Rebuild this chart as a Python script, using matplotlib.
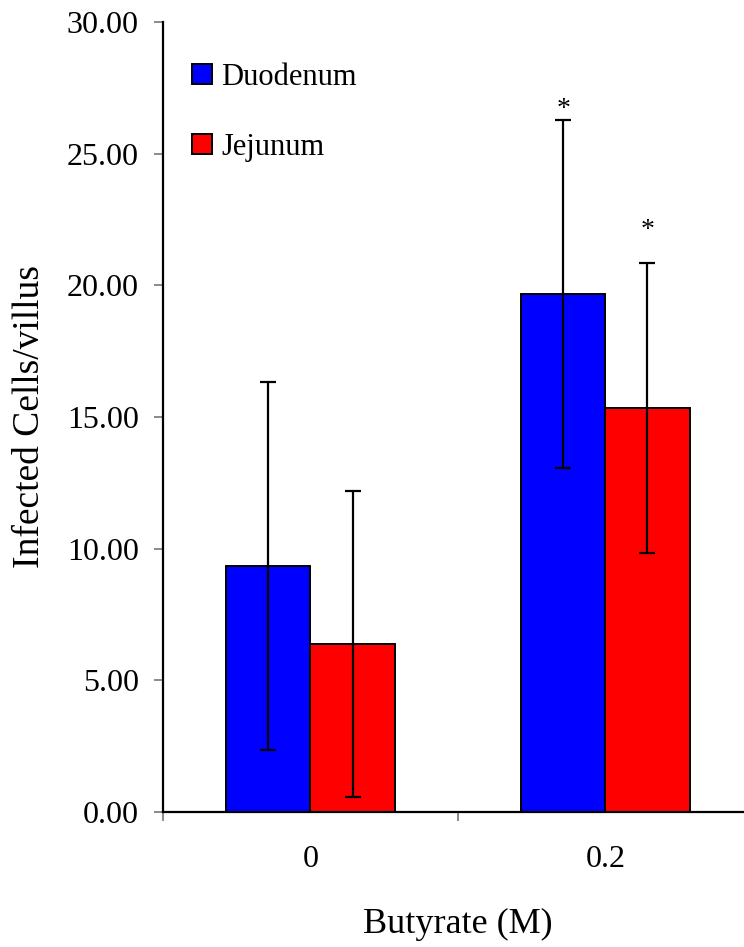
import matplotlib
matplotlib.use("Agg")
import matplotlib.pyplot as plt
import numpy as np

plt.rcParams['font.family'] = ['Liberation Serif', 'DejaVu Serif']

# data
doses = ['0', '0.2']
duodenum = [9.34, 19.67]
duodenum_err = [7.0, 6.62]
jejunum = [6.38, 15.35]
jejunum_err = [5.8, 5.5]
signif = [False, True]

fig = plt.figure(figsize=(7.44, 9.47), dpi=100)
ax = fig.add_axes([0.2191, 0.1426, 0.7929, 0.8342])

x = np.arange(len(doses))
w = 0.285

err_kw = dict(ecolor='black', elinewidth=1.6, capsize=5.5, capthick=1.6)
ax.bar(x - w / 2, duodenum, w, yerr=duodenum_err, color='#0000ff',
       edgecolor='black', linewidth=1.4, label='Duodenum', error_kw=err_kw)
ax.bar(x + w / 2, jejunum, w, yerr=jejunum_err, color='#ff0000',
       edgecolor='black', linewidth=1.4, label='Jejunum', error_kw=err_kw)

# significance stars above the error bars
for i, s in enumerate(signif):
    if s:
        ax.text(x[i] - w / 2, duodenum[i] + duodenum_err[i] - 0.1, '*',
                ha='center', va='bottom', fontsize=20)
        ax.text(x[i] + w / 2, jejunum[i] + jejunum_err[i] + 0.75, '*',
                ha='center', va='bottom', fontsize=20)

ax.set_ylim(0, 30)
ax.set_xlim(-0.5, len(doses) - 0.5)
ax.set_yticks(np.arange(0, 30.1, 5))
ax.set_yticklabels(['%.2f' % v for v in np.arange(0, 30.1, 5)])

# ticks between categories, labels at the centres
ax.set_xticks(np.arange(-0.5, len(doses), 1.0))
ax.set_xticklabels([])
ax.set_xticks(x, minor=True)
ax.set_xticklabels(doses, minor=True)
ax.tick_params(axis='x', which='minor', length=0, labelsize=23, pad=24)
ax.tick_params(axis='x', which='major', length=6.5, width=1.2, color='#777777')
ax.tick_params(axis='y', length=6.5, width=1.2, color='#777777', labelsize=23, pad=11)

for side in ['top', 'right']:
    ax.spines[side].set_visible(False)
for side in ['left', 'bottom']:
    ax.spines[side].set_linewidth(1.6)

ax.set_ylabel('Infected Cells/villus', fontsize=27, labelpad=14)
ax.set_xlabel('Butyrate (M)', fontsize=26, labelpad=24)

ax.legend(loc='upper left', bbox_to_anchor=(0.029, 0.964), frameon=False,
          fontsize=22, handlelength=0.65, handleheight=0.65, handletextpad=0.3,
          labelspacing=1.35, borderaxespad=0)

fig.savefig('out.png', dpi=100)
